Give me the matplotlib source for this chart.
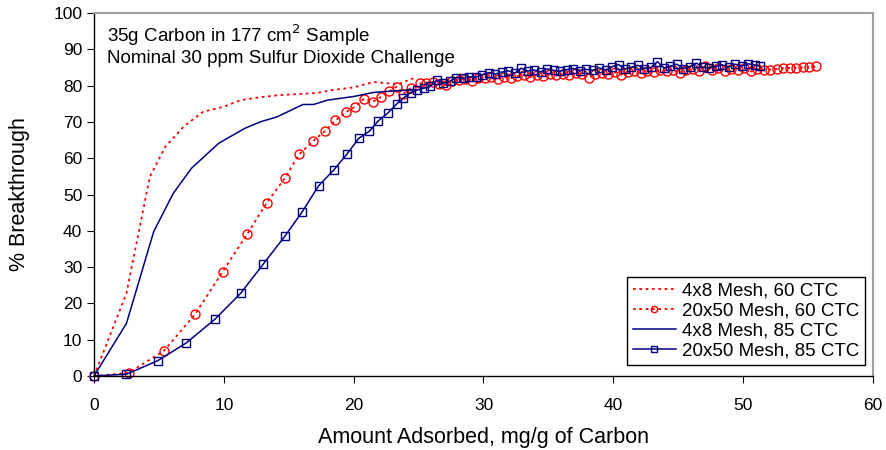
import matplotlib
matplotlib.use('Agg')
import matplotlib.pyplot as plt

plt.rcParams['font.family'] = ['Liberation Sans', 'DejaVu Sans']

# 4x8 Mesh, 60 CTC (red dotted, no markers)
x_4x8_60 = [0, 2.5, 4.3, 5.5, 6.9, 8.4, 10.0, 11.3, 12.8, 14.3, 15.9, 17.2, 18.4, 20.0, 21.5, 22.7, 23.5, 24.6]
y_4x8_60 = [0, 22.8, 54.9, 63.2, 68.7, 72.8, 74.2, 76.0, 76.8, 77.4, 77.7, 78.0, 78.8, 79.5, 81.0, 80.6, 80.5, 82.0]

# 4x8 Mesh, 85 CTC (navy solid, no markers)
x_4x8_85 = [0, 2.5, 4.6, 6.1, 7.5, 9.6, 11.6, 12.8, 14.1, 16.1, 16.9, 18.0, 19.0, 20.0, 21.5, 23.3, 24.6]
y_4x8_85 = [0, 14.5, 39.8, 50.3, 57.2, 64.1, 68.2, 70.0, 71.4, 74.8, 74.8, 76.0, 76.5, 77.0, 78.1, 78.6, 78.8]

# 20x50 Mesh, 60 CTC (red dotted, open circles)
x_20x50_60 = [0, 2.7, 5.4, 7.8, 9.9, 11.8, 13.3, 14.7, 15.8, 16.9, 17.8, 18.6, 19.4, 20.1, 20.8,
              21.5, 22.1, 22.75, 23.3, 23.8, 24.4, 25.1, 25.6, 26.1, 26.6, 27.1, 27.6, 28.1, 28.6,
              29.1, 29.6, 30.1, 30.6, 31.1, 31.6, 32.1, 32.6, 33.1, 33.6, 34.1, 34.6, 35.1, 35.6,
              36.1, 36.6, 37.1, 37.6, 38.1, 38.6, 39.1, 39.6, 40.1, 40.6, 41.1, 41.6, 42.1, 42.6,
              43.1, 43.6, 44.1, 44.6, 45.1, 45.6, 46.1, 46.6, 47.1, 47.6, 48.1, 48.6, 49.1, 49.6,
              50.1, 50.6, 51.1, 51.6, 52.1, 52.6, 53.1, 53.6, 54.1, 54.6, 55.1, 55.6]
y_20x50_60 = [0, 0.9, 7.0, 17.1, 28.7, 39.1, 47.7, 54.5, 61.1, 64.8, 67.5, 70.4, 72.7, 74.2, 76.4,
              75.6, 76.9, 78.4, 79.7, 77.7, 79.3, 80.6, 80.6, 81.0, 80.4, 80.2, 81.3, 81.6, 81.8,
              81.4, 82.2, 82.0, 82.3, 81.8, 82.4, 82.0, 82.6, 82.9, 82.3, 83.0, 82.7, 83.1, 82.9,
              83.3, 83.0, 83.4, 83.1, 82.2, 83.2, 83.6, 83.3, 83.7, 83.0, 83.8, 84.0, 83.5, 84.1,
              83.7, 84.2, 83.9, 84.4, 83.6, 84.3, 84.6, 84.0, 85.5, 84.4, 84.8, 84.1, 84.7, 84.3,
              84.8, 83.9, 84.5, 84.2, 84.4, 84.6, 84.8, 84.9, 84.9, 85.0, 85.0, 85.3]

# 20x50 Mesh, 85 CTC (navy solid, open squares)
x_20x50_85 = [0, 2.5, 4.9, 7.1, 9.3, 11.3, 13.05, 14.7, 16.05, 17.3, 18.45, 19.5, 20.4, 21.2,
              21.9, 22.65, 23.3, 23.8, 24.4, 24.9, 25.4, 25.9, 26.4, 26.9, 27.4, 27.9, 28.4, 28.9,
              29.4, 29.9, 30.4, 30.9, 31.4, 31.9, 32.4, 32.9, 33.4, 33.9, 34.4, 34.9, 35.4, 35.9,
              36.4, 36.9, 37.4, 37.9, 38.4, 38.9, 39.4, 39.9, 40.4, 40.9, 41.4, 41.9, 42.4, 42.9,
              43.4, 43.9, 44.4, 44.9, 45.4, 45.9, 46.4, 46.9, 47.4, 47.9, 48.4, 48.9, 49.4, 49.9,
              50.4, 50.9, 51.3]
y_20x50_85 = [0, 0.5, 4.2, 9.1, 15.6, 22.8, 30.9, 38.5, 45.3, 52.4, 56.7, 61.2, 65.5, 67.4,
              70.3, 72.5, 74.9, 76.5, 78.1, 78.8, 79.3, 79.8, 81.5, 80.6, 81.2, 82.2, 82.0, 82.4,
              82.3, 83.0, 83.6, 83.2, 83.7, 84.1, 83.4, 84.8, 84.0, 84.3, 83.8, 84.6, 84.2, 84.0,
              84.4, 84.7, 84.1, 84.5, 84.2, 84.9, 84.3, 85.2, 85.8, 84.6, 85.1, 85.6, 84.7, 85.0,
              86.6, 84.8, 85.4, 85.9, 84.7, 85.2, 86.2, 85.0, 84.9, 85.3, 85.7, 85.1, 85.9, 85.4,
              86.0, 85.7, 85.3]

RED = '#FF0000'
NAVY = '#000080'

fig = plt.figure(figsize=(8.86, 4.5), dpi=100)
ax = fig.add_axes([0.1061, 0.1644, 0.8792, 0.8067])

ax.plot(x_4x8_60, y_4x8_60, color=RED, linestyle=(0, (1.5, 2)), linewidth=1.3,
        label='4x8 Mesh, 60 CTC')
ax.plot(x_20x50_60, y_20x50_60, color=RED, linestyle=(0, (1.5, 2)), linewidth=1.3,
        marker='o', markersize=6.5, markerfacecolor='none', markeredgecolor=RED,
        markeredgewidth=1.0, label='20x50 Mesh, 60 CTC', clip_on=False)
ax.plot(x_4x8_85, y_4x8_85, color=NAVY, linewidth=1.1, label='4x8 Mesh, 85 CTC')
ax.plot(x_20x50_85, y_20x50_85, color=NAVY, linewidth=1.1,
        marker='s', markersize=5.5, markerfacecolor='none', markeredgecolor=NAVY,
        markeredgewidth=1.0, label='20x50 Mesh, 85 CTC', clip_on=False)

ax.set_xlim(0, 60)
ax.set_ylim(0, 100)
ax.set_xticks(range(0, 61, 10))
ax.set_yticks(range(0, 101, 10))
ax.tick_params(direction='out', length=5, labelsize=12.5, top=False, right=False)
ax.tick_params(axis='x', pad=11)

for side in ['top', 'right']:
    ax.spines[side].set_color('#a0a0a0')
    ax.spines[side].set_linewidth(1.5)
for side in ['left', 'bottom']:
    ax.spines[side].set_color('black')
    ax.spines[side].set_linewidth(1.0)

ax.set_xlabel('Amount Adsorbed, mg/g of Carbon', fontsize=15.5, labelpad=10)
ax.set_ylabel('% Breakthrough', fontsize=15.5, labelpad=17)

ax.text(0.017, 0.975, '35g Carbon in 177 cm$^2$ Sample\nNominal 30 ppm Sulfur Dioxide Challenge',
        transform=ax.transAxes, fontsize=13.5, va='top', ha='left', linespacing=1.2)

leg = ax.legend(loc='lower right', bbox_to_anchor=(0.99, 0.03), fontsize=13.5, frameon=True,
                fancybox=False, framealpha=1, edgecolor='black', handlelength=2.3,
                labelspacing=0.15, borderpad=0.3, handletextpad=0.35, numpoints=1,
                markerscale=0.7, borderaxespad=0.0)
leg.get_frame().set_linewidth(1.0)

fig.savefig('out.png', dpi=100)
